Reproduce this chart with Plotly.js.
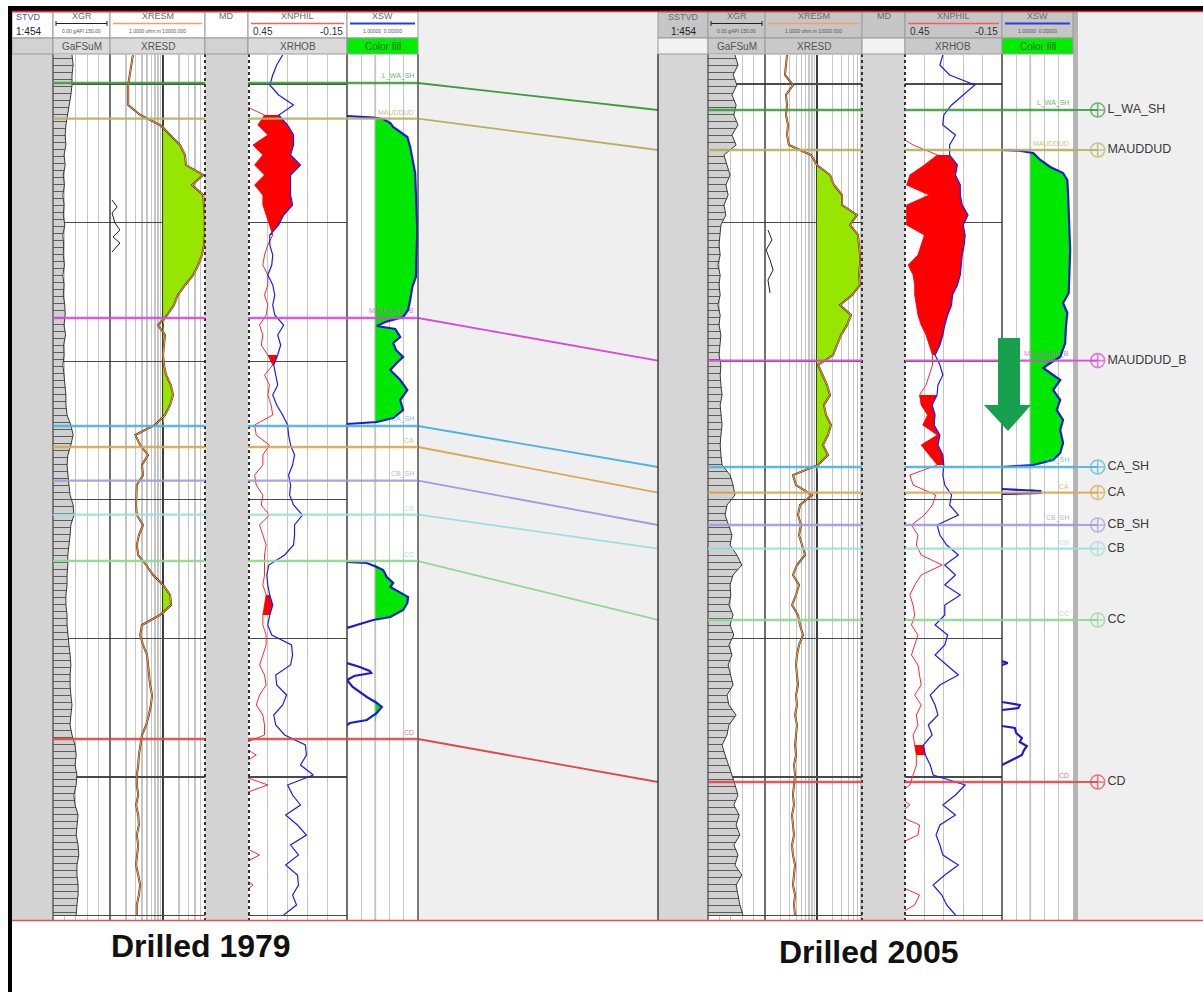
<!DOCTYPE html>
<html>
<head>
<meta charset="utf-8">
<script src="https://cdn.plot.ly/plotly-3.0.1.min.js"></script>
<style>
html,body{margin:0;padding:0;background:#fff;overflow:hidden;}
#chart{width:1203px;height:992px;}
</style>
</head>
<body>
<div id="chart"></div>
<script>
// ================= DATA =================
// depth samples (ft, SSTVD) shared by both wells
const DEPTH = [5790,5795,5800,5805,5810,5815,5820,5825,5830,5835,
5840,5845,5850,5855,5860,5865,5870,5875,5880,5885,
5890,5895,5900,5905,5910,5915,5920,5925,5930,5935,
5940,5945,5950,5955,5960,5965,5970,5975,5980,5985,
5990,5995,6000,6005,6010,6015,6020,6025,6030,6035,
6040,6045,6050,6055,6060,6065,6070,6075,6080,6085,
6090,6095,6100,6105,6110,6115,6120,6125,6130,6135,
6140,6145,6150,6155,6160,6165,6170,6175,6180,6185,
6190,6195,6200,6205,6210,6215,6220];

// ---- Well drilled 1979 ----
const L_GR = [50,53,50,50,47,42,37,34,32,34,
29,32,27,30,26,29,27,31,26,28,
27,30,26,29,27,31,32,29,33,28,
29,26,29,32,34,34,37,47,53,47,
39,37,39,42,45,53,55,47,45,42,
39,39,37,37,34,34,37,37,39,42,
45,47,45,45,47,50,47,45,50,58,
61,58,63,61,55,58,66,63,61,66,
68,63,63,66,66,63,61];
const L_RES = [2.7,2.5,2.3,2.2,2.2,2.2,3.7,8.8,13.6,20.9,
26,27,57,35,57,59,61,61,61,59,
54,46,37,26,19,16,12,8,10.9,10.4,
10,10.4,11.4,14,15.4,13.6,10.9,7,3.0,3.7,
5.2,4.0,4.2,3.2,3.1,3.1,3.2,4.2,3.5,3.2,
3.4,4.8,6.5,10,13.6,14.2,8.8,4.0,3.7,4.2,
5.0,5.2,5.4,5.7,6.2,5.9,5.4,4.8,4.0,3.7,
3.5,3.4,3.2,3.2,3.4,3.1,3.4,3.5,3.2,3.4,
3.2,3.1,3.4,3.7,3.5,3.2,3.2];
const L_NPHI = [0.50,0.50,0.50,0.50,0.50,0.48,0.35,0.39,0.33,0.42,
0.36,0.41,0.35,0.41,0.36,0.36,0.34,0.32,0.30,0.33,
0.35,0.36,0.33,0.33,0.35,0.33,0.34,0.38,0.36,0.37,
0.33,0.30,0.35,0.32,0.33,0.31,0.30,0.41,0.40,0.32,
0.36,0.36,0.41,0.40,0.36,0.37,0.32,0.38,0.36,0.34,
0.35,0.35,0.35,0.36,0.34,0.35,0.36,0.36,0.34,0.34,
0.36,0.38,0.35,0.34,0.38,0.40,0.36,0.35,0.35,0.50,
0.40,0.50,0.50,0.33,0.50,0.50,0.50,0.50,0.50,0.50,
0.38,0.50,0.50,0.42,0.50,0.50,0.50];
const L_RHOB = [2.30,2.24,2.20,2.17,2.26,2.41,2.26,2.35,2.41,2.41,
2.38,2.48,2.38,2.38,2.38,2.40,2.31,2.26,2.17,2.17,
2.20,2.19,2.15,2.20,2.22,2.20,2.22,2.31,2.25,2.28,
2.25,2.21,2.23,2.25,2.20,2.24,2.30,2.35,2.36,2.38,
2.42,2.40,2.36,2.38,2.37,2.41,2.50,2.42,2.42,2.41,
2.32,2.16,2.14,2.15,2.17,2.20,2.17,2.15,2.19,2.39,
2.40,2.38,2.23,2.24,2.34,2.30,2.21,2.23,2.32,2.53,
2.54,2.48,2.61,2.35,2.40,2.48,2.33,2.45,2.54,2.38,
2.46,2.33,2.45,2.46,2.40,2.44,2.31];
const L_SW_D = [5820.5,5821.3,5822,5824,5826,5831,5836,5842.5,5849,5859,
5877.5,5901,5906,5912.5,5917.5,5921,5923.5,5925.5,5927,5931,
5934,5937.5,5941,5944,5947.5,5952.5,5957.5,5962.5,5967.5,5971.5,5973.5,5974.5,null,
6043.5,6044,6046,6047.5,6051,6054,6056,6059,6061,6064,6067.5,6071,6072.5,6074,6076.5,null,
6094,6096,6098,6099,6100.5,6102.5,6106,6111,6114,6116,6119,6122.5,6124,6125];
const L_SW = [1.0,0.63,0.49,0.39,0.35,0.15,0.11,0.07,0.04,0.03,
0.01,0.03,0.08,0.11,0.14,0.21,0.46,0.58,0.32,0.25,
0.35,0.31,0.21,0.30,0.39,0.25,0.15,0.25,0.21,0.35,0.58,1.0,null,
1.0,0.72,0.58,0.49,0.44,0.35,0.39,0.25,0.14,0.15,0.21,0.39,0.63,0.77,1.0,null,
1.0,0.82,0.68,0.66,0.90,1.0,0.92,0.72,0.58,0.51,0.58,0.72,0.96,1.0];
const L_AUX_D = [5862.5,5866,5869,5874,5877.5,5881,5884,5888.5];
const L_AUX = [1.09,1.36,1.09,1.24,1.54,1.14,1.54,1.09];
const L_PHI_ZONES = [[5820,5880],[5938,5947],[6057,6071]];

// ---- Well drilled 2005 ----
const R_GR = [71,79,66,76,63,74,68,79,63,74,
42,50,58,47,53,42,47,34,32,29,
32,26,32,29,32,26,32,29,34,32,
29,34,32,34,37,32,34,37,34,32,
34,37,58,66,71,50,45,55,63,58,
76,89,66,58,60,55,66,58,68,55,
63,53,60,66,50,55,74,55,50,37,
45,55,63,71,79,68,82,74,84,68,
79,71,89,74,79,84,92];
const R_RES = [2.65,2.53,2.42,3.45,2.53,2.65,2.53,2.77,2.65,2.89,
7.7,10,17.8,21.2,30.3,30.3,58.8,43.1,61.4,64.2,
67.1,67.1,64.2,67.1,47.1,27.7,45.1,37.8,29.0,24.3,
20.3,10.5,13.0,15.6,17.8,13.6,14.9,18.6,16.3,13.0,
16.3,10.5,3.45,3.95,8.0,4.71,4.31,4.92,4.51,5.15,
5.88,4.12,3.45,4.51,3.95,3.31,4.31,4.71,5.38,4.51,
4.12,3.95,4.12,4.31,3.95,4.12,3.78,4.12,3.95,3.78,
3.95,3.61,3.78,3.61,3.45,3.61,3.31,3.45,3.61,3.31,
3.45,3.78,3.61,3.45,3.78,3.61,3.78];
const R_NPHI = [0.50,0.50,0.50,0.50,0.50,0.50,0.50,0.50,0.50,0.40,
0.25,0.33,0.42,0.44,0.30,0.44,0.44,0.44,0.33,0.35,
0.37,0.43,0.40,0.39,0.39,0.38,0.37,0.35,0.32,0.30,
0.28,0.28,0.30,0.32,0.36,0.35,0.31,0.34,0.25,0.35,
0.30,0.25,0.42,0.40,0.26,0.28,0.33,0.41,0.37,0.38,
0.35,0.22,0.35,0.39,0.42,0.40,0.39,0.41,0.37,0.39,
0.41,0.37,0.36,0.35,0.39,0.35,0.38,0.37,0.40,0.39,
0.38,0.38,0.40,0.42,0.50,0.42,0.50,0.36,0.37,0.50,
0.50,0.50,0.50,0.50,0.36,0.39,0.50];
const R_RHOB = [2.34,2.31,2.41,2.67,2.55,2.43,2.35,2.34,2.47,2.41,
2.41,2.49,2.47,2.52,2.52,2.54,2.60,2.55,2.57,2.56,
2.54,2.53,2.52,2.49,2.44,2.43,2.39,2.36,2.34,2.31,
2.26,2.31,2.34,2.29,2.28,2.23,2.26,2.25,2.31,2.29,
2.34,2.35,2.34,2.36,2.43,2.41,2.50,2.28,2.31,2.38,
2.50,2.36,2.47,2.36,2.52,2.36,2.36,2.26,2.39,2.36,
2.26,2.38,2.50,2.31,2.21,2.26,2.29,2.19,2.23,2.14,
2.16,2.21,2.24,2.57,2.47,2.34,2.47,2.31,2.27,2.31,
2.34,2.50,2.36,2.24,2.33,2.38,2.47];
const R_SW_D = [5837.5,5837.8,5838.5,5839,5842.5,5846,5849,5852.5,5859,5867.5,
5887.5,5909,5914,5919,5926,5934,5937.5,5941,5944,5946.5,
5949,5952.5,5957.5,5962.5,5967.5,5972.5,5977.5,5984,5989,5992.5,5995,5996,null,
6007,6008,6009,6009.5,null,
6093,6094,6095,null,
6113.5,6115,6116.5,6117.5,null,
6125.5,6126.5,6129,6131.5,6133.5,6135.5,6137.5,6140,6142.5,6145];
const R_SW = [1.0,0.75,0.65,0.56,0.46,0.32,0.14,0.08,0.07,0.06,
0.04,0.06,0.14,0.08,0.10,0.11,0.14,0.18,0.32,0.42,
0.32,0.18,0.28,0.18,0.23,0.14,0.18,0.14,0.18,0.28,0.56,1.0,null,
1.0,0.46,0.46,1.0,null,
1.0,0.92,1.0,null,
1.0,0.75,0.77,1.0,null,
1.0,0.82,0.80,0.72,0.75,0.65,0.69,0.72,0.86,1.0];
const R_AUX_D = [5877.5,5882.5,5887.5,5892.5,5897.5,5902.5,5909];
const R_AUX = [1.14,1.36,1.05,1.25,1.43,1.14,1.25];
const R_PHI_ZONES = [[5837,5942],[5957,5996],[6132,6144]];

// ---- Formation tops ----
const TOPS  = ['L_WA_SH','MAUDDUD','MAUDDUD_B','CA_SH','CA','CB_SH','CB','CC','CD'];
const TOP_L = [5804,5821.8,5921.5,5975.5,5986,6002.8,6019.8,6043,6132];
const TOP_R = [5817.5,5837.5,5942.8,5996,6008.8,6025,6036.8,6072.5,6153.5];

const WELL_TITLES = ['Drilled 1979','Drilled 2005'];
const HDR_ROW1 = ['XGR','XRESM','MD','XNPHIL','XSW'];
const HDR_ROW2 = ['GaFSuM','XRESD','','XRHOB','Color fill'];

// ================= STYLE =================
const W = 1203, H = 992;
const X = v => v / W, Y = v => 1 - v / H;
const FONT = 'Liberation Sans, Arial, sans-serif';
const TOP_COLORS = ['#3c9e3c','#b8b05c','#d84ad8','#4cb2e2','#d8aa52','#9c9ce2','#9edede','#92d692','#e04848'];
const NPHI_RANGE = [0.45,-0.15], RHOB_RANGE = [1.95,2.95];
const RES_CUT = 10, SW_CUT = 0.6;
const YDOM = [Y(920), Y(55)], YRANGE = [6222.5, 5790];

const traces = [];
function line(x, y, xa, ya, color, width, extra) {
  return Object.assign({type:'scatter', mode:'lines', x:x, y:y, xaxis:xa, yaxis:ya,
    line:{color:color, width:width}, hoverinfo:'skip', connectgaps:false}, extra || {});
}
function addWell(ax, gr, res, nphi, rhob, swD, sw, zones, auxD, aux) {
  // GR with lithology-like fill
  traces.push(line(gr, DEPTH, ax.gr, 'y', '#3a3a3a', 1, {fill:'tozerox', fillcolor:'#d0d0d0',
    fillpattern:{shape:'-', fgcolor:'#5a5a5a', bgcolor:'#d0d0d0', size:7, solidity:0.14}}));
  // resistivity fill above cutoff
  const rx = res.map(v => Math.max(v, RES_CUT)).concat(DEPTH.map(() => RES_CUT));
  const ry = DEPTH.concat(DEPTH.slice().reverse());
  traces.push(line(rx, ry, ax.res, 'y', 'rgba(0,0,0,0)', 0, {fill:'toself', fillcolor:'#97e600'}));
  traces.push(line(res, DEPTH, ax.res, 'y', '#5a3414', 2));
  traces.push(line(res, DEPTH, ax.res, 'y', '#f39a4a', 1));
  traces.push(line(aux, auxD, ax.res, 'y', '#222222', 1));
  // neutron-density fill (zones)
  const toR = n => RHOB_RANGE[0] + (NPHI_RANGE[0] - n) / (NPHI_RANGE[0] - NPHI_RANGE[1]) * (RHOB_RANGE[1] - RHOB_RANGE[0]);
  const fx = [], fy = [];
  zones.forEach(([t, b]) => {
    const idx = DEPTH.map((d, i) => i).filter(i => DEPTH[i] >= t && DEPTH[i] <= b);
    idx.forEach(i => { fx.push(toR(nphi[i])); fy.push(DEPTH[i]); });
    idx.slice().reverse().forEach(i => { fx.push(rhob[i]); fy.push(DEPTH[i]); });
    fx.push(null); fy.push(null);
  });
  traces.push(line(nphi, DEPTH, ax.nphi, 'y', '#ff2a2a', 1));
  traces.push(line(fx, fy, ax.rhob, 'y', 'rgba(0,0,0,0)', 0, {fill:'toself', fillcolor:'#ff0000'}));
  traces.push(line(rhob, DEPTH, ax.rhob, 'y', '#1a1aff', 1.2));
  // water saturation fill below cutoff
  const sx = [], sy = []; let seg = [];
  const flush = () => {
    if (seg.length && seg.some(i => sw[i] < SW_CUT)) {
      seg.forEach(i => { sx.push(Math.min(sw[i], SW_CUT)); sy.push(swD[i]); });
      seg.slice().reverse().forEach(i => { sx.push(SW_CUT); sy.push(swD[i]); });
      sx.push(null); sy.push(null);
    }
    seg = [];
  };
  sw.forEach((v, i) => { if (v === null) flush(); else seg.push(i); });
  flush();
  traces.push(line(sx, sy, ax.sw, 'y2', 'rgba(0,0,0,0)', 0, {fill:'toself', fillcolor:'#00e800'}));
  traces.push(line(sw, swD, ax.sw, 'y2', '#1a1ad8', 2.2));
}
addWell({gr:'x', res:'x2', nphi:'x3', rhob:'x4', sw:'x5'}, L_GR, L_RES, L_NPHI, L_RHOB, L_SW_D, L_SW, L_PHI_ZONES, L_AUX_D, L_AUX);
addWell({gr:'x6', res:'x7', nphi:'x8', rhob:'x9', sw:'x10'}, R_GR, R_RES, R_NPHI, R_RHOB, R_SW_D, R_SW, R_PHI_ZONES, R_AUX_D, R_AUX);

// correlation lines between wells + marker labels
TOPS.forEach((name, i) => {
  const c = TOP_COLORS[i];
  traces.push(line([0, 1], [TOP_L[i], TOP_R[i]], 'x11', 'y2', c, 1.8));
  traces.push({type:'scatter', mode:'lines+markers+text', x:[0, 0.19], y:[TOP_R[i], TOP_R[i]],
    xaxis:'x12', yaxis:'y2', hoverinfo:'skip', cliponaxis:false,
    line:{color:c, width:1.8},
    marker:{symbol:'circle-cross-open', size:[0, 14], color:c, line:{width:1.6, color:c}},
    text:['', name], textposition:'middle right',
    textfont:{family:FONT, size:12.5, color:'#3a3a3a'}});
});

// ================= LAYOUT =================
function ax(x0, x1, extra) {
  return Object.assign({domain:[X(x0), X(x1)], showticklabels:false, ticks:'', zeroline:false,
    showline:false, showgrid:false, fixedrange:true}, extra);
}
const GRID = '#c6c6c6';
const layout = {
  width:W, height:H, margin:{l:0, r:0, t:0, b:0},
  paper_bgcolor:'#ffffff', plot_bgcolor:'rgba(0,0,0,0)', showlegend:false,
  xaxis:  ax(53, 110,  {anchor:'y', range:[0,150], showgrid:true, tick0:0, dtick:30, gridcolor:GRID}),
  xaxis2: ax(110, 205, {anchor:'y', type:'log', range:[0,1.79], showgrid:true, dtick:1, gridcolor:'#3c3c3c', gridwidth:1.3,
                        minor:{showgrid:true, dtick:'D1', gridcolor:GRID, ticks:''}}),
  xaxis3: ax(248, 347, {anchor:'y', range:NPHI_RANGE, showgrid:true, tick0:0.45, dtick:0.12, gridcolor:GRID}),
  xaxis4: ax(248, 347, {anchor:'y', overlaying:'x3', range:RHOB_RANGE}),
  xaxis5: ax(347, 418, {anchor:'y2', range:[1,0], showgrid:true, tick0:0, dtick:0.2, gridcolor:GRID}),
  xaxis6: ax(708, 765, {anchor:'y', range:[0,150], showgrid:true, tick0:0, dtick:30, gridcolor:GRID}),
  xaxis7: ax(765, 862, {anchor:'y', type:'log', range:[0,1.865], showgrid:true, dtick:1, gridcolor:'#3c3c3c', gridwidth:1.3,
                        minor:{showgrid:true, dtick:'D1', gridcolor:GRID, ticks:''}}),
  xaxis8: ax(905, 1002, {anchor:'y', range:NPHI_RANGE, showgrid:true, tick0:0.45, dtick:0.12, gridcolor:GRID}),
  xaxis9: ax(905, 1002, {anchor:'y', overlaying:'x8', range:RHOB_RANGE}),
  xaxis10: ax(1002, 1073, {anchor:'y2', range:[1,0], showgrid:true, tick0:0, dtick:0.2, gridcolor:GRID}),
  xaxis11: ax(418, 658, {anchor:'y2', range:[0,1]}),
  xaxis12: ax(1073, 1203, {anchor:'y2', range:[0,1]}),
  yaxis:  {domain:YDOM, range:YRANGE, anchor:'x', showgrid:true, gridcolor:'#4a4a4a', gridwidth:1.2,
           tick0:5804.5, dtick:69.3, showticklabels:false, ticks:'', zeroline:false, fixedrange:true},
  yaxis2: {domain:YDOM, range:YRANGE, anchor:'x5', showgrid:false, showticklabels:false, ticks:'',
           zeroline:false, fixedrange:true},
  shapes:[], annotations:[]
};
const S = layout.shapes, A = layout.annotations;
function rect(x0, y0, x1, y1, fill, lc, layer) {
  S.push({type:'rect', xref:'paper', yref:'paper', x0:X(x0), x1:X(x1), y0:Y(y1), y1:Y(y0),
    fillcolor:fill, line:{color:lc || 'rgba(0,0,0,0)', width:lc ? 1 : 0}, layer:layer || 'above'});
}
function seg(x0, y0, x1, y1, color, w, dash, layer) {
  S.push({type:'line', xref:'paper', yref:'paper', x0:X(x0), x1:X(x1), y0:Y(y0), y1:Y(y1),
    line:{color:color, width:w, dash:dash || 'solid'}, layer:layer || 'above'});
}
function txt(x, y, s, size, color, anchor, weight) {
  A.push({xref:'paper', yref:'paper', x:X(x), y:Y(y), text:s, showarrow:false,
    xanchor:anchor || 'center', yanchor:'middle',
    font:{family:FONT, size:size, color:color, weight:weight || 'normal'}});
}

// backgrounds
rect(418, 11, 658, 920, '#efefef', null, 'below');
rect(1073, 11, 1203, 920, '#efefef', null, 'below');
rect(12, 54, 53, 920, '#d3d3d3', null, 'below');
rect(205, 54, 248, 920, '#d3d3d3', null, 'below');
rect(658, 54, 708, 920, '#d6d6d6', null, 'below');
rect(862, 54, 905, 920, '#d6d6d6', null, 'below');
rect(1073, 11, 1078, 920, '#b4b4b4', null, 'below');

// track borders
[[53,'#555'],[110,'#333'],[347,'#333'],[418,'#444'],[658,'#333'],[708,'#555'],[765,'#333'],[1002,'#333']]
  .forEach(([x, c]) => seg(x, 54, x, 920, c, 1.4));
[205, 249, 862, 905].forEach(x => seg(x, 54, x, 920, '#333', 2, 'dot'));
// cutoff lines
S.push({type:'line', xref:'x5', yref:'y2 domain', x0:SW_CUT, x1:SW_CUT, y0:0, y1:1, line:{color:'#555', width:1.3}, layer:'below'});
S.push({type:'line', xref:'x10', yref:'y2 domain', x0:SW_CUT, x1:SW_CUT, y0:0, y1:1, line:{color:'#555', width:1.3}, layer:'below'});

// formation lines inside the tracks
const trackRefs = {L:[['x','y'],['x2','y'],['x3','y'],['x5','y2']], R:[['x6','y'],['x7','y'],['x8','y'],['x10','y2']]};
TOPS.forEach((name, i) => {
  const c = TOP_COLORS[i];
  trackRefs.L.forEach(([xa, ya]) => S.push({type:'line', xref:xa + ' domain', yref:ya, x0:0, x1:1,
    y0:TOP_L[i], y1:TOP_L[i], line:{color:c, width:2.4}, opacity:0.9, layer:'above'}));
  trackRefs.R.forEach(([xa, ya]) => S.push({type:'line', xref:xa + ' domain', yref:ya, x0:0, x1:1,
    y0:TOP_R[i], y1:TOP_R[i], line:{color:c, width:2.4}, opacity:0.9, layer:'above'}));
  [['x5 domain', TOP_L[i]], ['x10 domain', TOP_R[i]]].forEach(([xr, d]) => A.push({xref:xr, yref:'y2', x:0.97, y:d,
    text:name, showarrow:false, xanchor:'right', yanchor:'bottom', yshift:1,
    font:{family:FONT, size:7, color:c}, opacity:0.75}));
});

// header
function header(xs, row1Fill, row2Fills, depthName, depthAnchor, depthColor) {
  for (let k = 0; k < 6; k++) {
    rect(xs[k], 12, xs[k+1], 38, row1Fill, '#9a9a9a');
    rect(xs[k], 38, xs[k+1], 54, row2Fills[k], '#9a9a9a');
  }
  const mid = k => (xs[k] + xs[k+1]) / 2;
  if (depthAnchor === 'left') {
    txt(xs[0] + 2, 17, depthName, 9, depthColor, 'left');
    txt(xs[0] + 2, 31, '1:454', 10, '#222', 'left');
  } else {
    txt(mid(0), 17, depthName, 9, depthColor);
    txt(mid(0), 31, '1:454', 10, '#222');
  }
  HDR_ROW1.forEach((s, j) => txt(mid(j + 1), 16.5, s, 9, '#6a6a6a'));
  HDR_ROW2.forEach((s, j) => txt(mid(j + 1), 46.5, s, 10, j === 4 ? '#2c6a2c' : '#555'));
  // curve colour keys
  seg(xs[1] + 3, 23.5, xs[2] - 3, 23.5, '#222', 1.2);
  seg(xs[1] + 3, 21, xs[1] + 3, 26, '#222', 1);
  seg(xs[2] - 3, 21, xs[2] - 3, 26, '#222', 1);
  seg(xs[2] + 3, 23.5, xs[3] - 3, 23.5, '#f2a064', 1.6);
  seg(xs[4] + 3, 23.5, xs[5] - 3, 23.5, '#f06262', 1.6);
  seg(xs[5] + 3, 23.5, xs[6] - 3, 23.5, '#2040e0', 2);
  txt(mid(1), 31, '0.00 gAPI 150.00', 5, '#555');
  txt(mid(2), 31, '1.0000 ohm.m 10000.000', 5, '#555');
  txt(xs[4] + 3, 31.5, '0.45', 10, '#333', 'left');
  txt(xs[5] - 2, 31.5, '-0.15', 10, '#333', 'right');
  txt(mid(5), 31, '1.00000  0.00000', 5, '#555');
}
header([12,53,110,205,248,347,418], '#ffffff', ['#d2d2d2','#dadada','#dadada','#d2d2d2','#dadada','#00ee00'], 'STVD', 'left', '#5a4fb0');
header([658,708,765,862,905,1002,1073], '#c6c6c6', ['#f2f2f2','#c9c9c9','#c9c9c9','#f2f2f2','#c9c9c9','#00ee00'], 'SSTVD', 'center', '#6a6a6a');

// frame
rect(8, 6, 1203, 11, '#000000');
seg(12, 11.6, 1203, 11.6, '#e03030', 1.5);
rect(8, 6, 12, 992, '#000000');
seg(12, 920.5, 1203, 920.5, '#e05050', 1.5);

// green arrow
const P = (x, y) => X(x).toFixed(5) + ',' + Y(y).toFixed(5);
S.push({type:'path', xref:'paper', yref:'paper', layer:'above', fillcolor:'#17a04e', line:{width:0},
  path:'M' + P(998,338) + ' L' + P(1020,338) + ' L' + P(1020,405) + ' L' + P(1031,405) + ' L' + P(1008,431) +
       ' L' + P(984,405) + ' L' + P(998,405) + ' Z'});

// well titles
txt(201, 946, WELL_TITLES[0], 32, '#111', 'center', 'bold');
txt(869, 952, WELL_TITLES[1], 32, '#111', 'center', 'bold');

Plotly.newPlot('chart', traces, layout, {staticPlot:true, displayModeBar:false});
</script>
</body>
</html>
